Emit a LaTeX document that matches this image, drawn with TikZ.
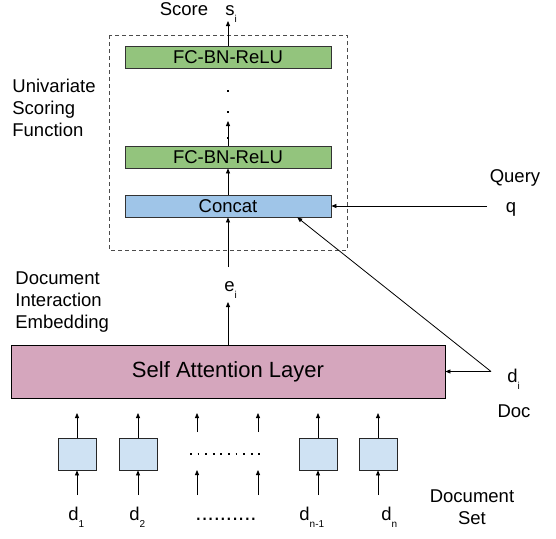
\documentclass[tikz,border=0pt]{standalone}
\usepackage{fontspec}
\setmainfont{Liberation Sans}
\usetikzlibrary{arrows.meta,calc}

\definecolor{fcgreen}{RGB}{147,196,125}
\definecolor{catblue}{RGB}{159,197,232}
\definecolor{attpink}{RGB}{213,166,189}
\definecolor{docblue}{RGB}{207,226,243}

\newcommand{\lblfont}{\fontsize{18.5}{22}\selectfont}
\newcommand{\sub}[1]{\raisebox{-7pt}{\fontsize{10}{10}\selectfont #1}}

\begin{document}
\begin{tikzpicture}[x=1pt, y=-1pt, line width=0.8pt,
    arr/.style={-{Triangle[length=5pt,width=4pt]}},
    layer/.style={draw=black!80, minimum width=206pt, minimum height=22pt, inner sep=0pt, font=\lblfont},
    docbox/.style={draw=black!85, fill=docblue, minimum width=38pt, minimum height=32pt, inner sep=0pt},
    txt/.style={font=\lblfont, inner sep=0pt, align=left}]
    \useasboundingbox (0,0) rectangle (556,538);

    % Univariate scoring function
    \draw[black!70, dash pattern=on 4pt off 3pt] (109,35) rectangle (347,250);
    \node[layer, fill=fcgreen] (fctop) at (228,57) {FC-BN-ReLU};
    \node[layer, fill=fcgreen] (fcbot) at (228,157) {FC-BN-ReLU};
    \node[layer, fill=catblue] (concat) at (228,206) {Concat};
    \node[txt, anchor=west] (usf) at (12,108) {Univariate\\Scoring\\Function};

    % Score output
    \node[txt, anchor=base] (score) at (184,15) {Score};
    \node[txt, anchor=base west] (si) at (225,15) {s\sub{i}};
    \coordinate (sout) at (228,21);
    \draw[arr] (fctop.north) -- (sout);

    % Hidden layers in between
    \coordinate (fcup) at (228,121);
    \draw[arr] (fcbot.north) -- (fcup);
    \foreach \y in {91,112,138}
        \fill (226.8,\y-1.3) rectangle +(2.6,2.6);
    \draw[arr] (concat.north) -- (fcbot.south);

    % Query input
    \node[txt, anchor=base] (query) at (515,182) {Query};
    \node[txt, anchor=base] (q) at (511,212) {q};
    \coordinate (qin) at (487,206);
    \draw[arr] (qin) -- (concat.east);

    % Self attention layer
    \node[draw, fill=attpink, minimum width=434pt, minimum height=53pt, inner sep=0pt,
          font=\fontsize{22}{26}\selectfont] (attn) at (228,371.5) {Self Attention Layer};
    \node[txt, anchor=base west] (ei) at (224,291) {e\sub{i}};
    \node[txt, anchor=west] (die) at (15,302.5) {Document\\Interaction\\Embedding};
    \coordinate (eup) at (228,302);
    \coordinate (ein) at (228,267);
    \draw[arr] (attn.north) -- (eup);
    \draw[arr] (ein) -- (concat.south);

    % Doc input d_i
    \node[txt, anchor=base west] (di) at (507,382) {d\sub{i}};
    \node[txt, anchor=base] (doc) at (514,417) {Doc};
    \coordinate (dsplit) at (491,371.5);
    \draw[arr] (dsplit) -- (attn.east);
    \draw[arr] (dsplit) -- ($(concat.south)!0.67!(concat.south east)$);

    % Document set
    \foreach \x/\n in {77/1,138/2,318/3,378/4} {
        \node[docbox] (doc\n) at (\x,454) {};
        \coordinate (dup\n) at (\x,413);
        \coordinate (din\n) at (\x,495);
        \draw[arr] (doc\n.north) -- (dup\n);
        \draw[arr] (din\n) -- (doc\n.south);
    }
    \foreach \x/\n in {197/a,258/b} {
        \coordinate (gtop\n) at (\x,432);
        \coordinate (gup\n) at (\x,413);
        \coordinate (gbot\n) at (\x,495);
        \coordinate (gin\n) at (\x,470);
        \draw[arr] (gtop\n) -- (gup\n);
        \draw[arr] (gbot\n) -- (gin\n);
    }
    \draw[line width=1.8pt, dash pattern=on 1.8pt off 5.8pt] (190,454) -- (261,454);

    \node[txt, anchor=base west] (d1) at (68,520) {d\sub{1}};
    \node[txt, anchor=base west] (d2) at (129,520) {d\sub{2}};
    \node[txt, anchor=base west, font=\fontsize{22}{22}\selectfont] (ddots) at (195,520) {..........};
    \node[txt, anchor=base west] (dn1) at (299,520) {d\sub{n-1}};
    \node[txt, anchor=base west] (dn) at (381,520) {d\sub{n}};
    \node[txt, align=center] (dset) at (472,507.5) {Document\\Set};
\end{tikzpicture}
\end{document}
